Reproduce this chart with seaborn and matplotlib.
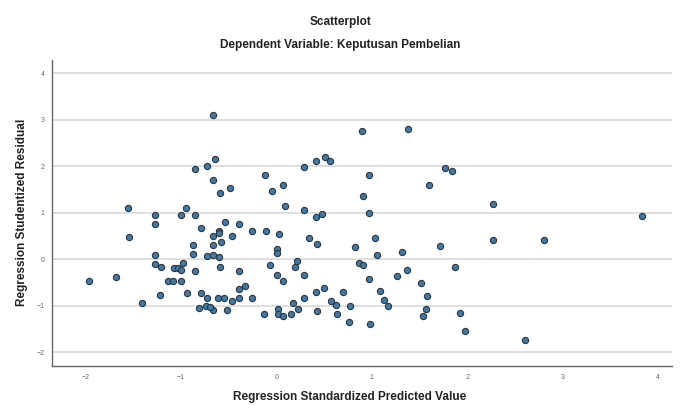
import matplotlib
matplotlib.use("Agg")
import matplotlib.pyplot as plt
import numpy as np
import pandas as pd
import seaborn as sns

# Regression standardized predicted value (x) and studentized residual (y),
# read off the SPSS scatterplot
pred = [
    -0.665, -0.645, -0.73, -0.85, -0.665, -0.49, -0.595, -0.12, -0.05,
    -1.55, -0.95, -1.27, -1.00, -0.85, -1.27, -0.79, -0.54, -0.39, -0.25,
    -0.11, -0.60, -1.54, -0.46, -0.66, -0.60, -0.58, -0.66, -0.87, -1.27,
    -0.875, -0.73, -0.66, -0.60, -1.27, -1.21, -1.07, -1.03, -0.98, -1.00,
    -0.59, -0.85, -0.39, -0.07, -1.96, -1.68, -1.14, -1.08, -1.00, -1.22,
    -0.94, -0.79, -0.73, -0.39, -0.33, -0.61, -0.55, -0.46, -0.39, -0.25,
    -1.41, -0.81, -0.735, -0.66, -0.52, -0.125, -0.70,
    0.895, 1.38, 0.51, 0.56, 0.42, 0.29, 0.97, 0.07, 0.905, 1.60, 1.77,
    1.84, 0.09, 0.29, 0.42, 0.48, 0.97, 0.025, 0.345, 0.43, 0.01, 0.01,
    0.825, 1.03, 1.05, 1.32, 1.72, 0.22, 0.195, 0.87, 0.91, 0.005, 0.07,
    0.29, 0.97, 1.26, 1.37, 1.87, 1.52, 0.42, 0.50, 0.70, 0.29, 0.57, 0.63,
    0.77, 1.09, 1.125, 1.17, 1.575, 1.57, 1.54, 1.92, 1.975, 0.17, 0.23,
    0.02, 0.02, 0.07, 0.15, 0.43, 0.64, 0.76, 0.985,
    2.27, 3.83, 2.27, 2.80, 2.61,
]
resid = [
    3.11, 2.16, 2.00, 1.95, 1.71, 1.54, 1.42, 1.81, 1.48,
    1.10, 1.10, 0.96, 0.95, 0.96, 0.76, 0.68, 0.80, 0.76, 0.61,
    0.61, 0.61, 0.47, 0.51, 0.51, 0.56, 0.38, 0.31, 0.31, 0.10,
    0.11, 0.06, 0.10, 0.04, -0.10, -0.17, -0.18, -0.18, -0.09, -0.24,
    -0.17, -0.26, -0.26, -0.13, -0.47, -0.38, -0.46, -0.46, -0.46, -0.77,
    -0.73, -0.73, -0.83, -0.63, -0.58, -0.83, -0.83, -0.89, -0.84, -0.83,
    -0.95, -1.04, -1.00, -1.09, -1.09, -1.18, -1.03,
    2.77, 2.81, 2.21, 2.12, 2.12, 1.98, 1.81, 1.60, 1.36, 1.60, 1.97,
    1.91, 1.15, 1.07, 0.90, 0.97, 0.99, 0.54, 0.46, 0.33, 0.23, 0.13,
    0.26, 0.46, 0.085, 0.15, 0.28, -0.04, -0.16, -0.09, -0.12, -0.34, -0.46,
    -0.33, -0.43, -0.36, -0.24, -0.16, -0.50, -0.70, -0.61, -0.70, -0.83, -0.89, -0.98,
    -1.01, -0.68, -0.87, -1.01, -0.80, -1.08, -1.22, -1.16, -1.54, -0.95, -1.08,
    -1.08, -1.18, -1.23, -1.18, -1.12, -1.18, -1.34, -1.40,
    1.19, 0.93, 0.42, 0.41, -1.74,
]
y_ticks = [-2, -1, 0, 1, 2, 3, 4]
x_ticks = [-2, -1, 0, 1, 2, 3, 4]

df = pd.DataFrame({"pred": pred, "resid": resid})

sns.set_style("white")
plt.rcParams["font.family"] = ["Liberation Sans", "DejaVu Sans"]

fig = plt.figure(figsize=(6.81, 4.05), dpi=100)
ax = fig.add_axes([0.0764, 0.096, 0.911, 0.757])

for t in y_ticks:
    ax.axhline(t, color="#d9d9d9", lw=1.2, zorder=0)

sns.scatterplot(data=df, x="pred", y="resid", ax=ax, s=20,
                color="#3f7ba6", edgecolor="#2a3440", linewidth=0.8, zorder=3)

ax.set_xlim(-2.35, 4.15)
ax.set_ylim(-2.3, 4.3)
ax.set_xticks(x_ticks)
ax.set_yticks(y_ticks)
ax.tick_params(axis="both", labelsize=5, colors="#666666", length=2, width=0.6)
for side in ["top", "right"]:
    ax.spines[side].set_visible(False)
for side in ["left", "bottom"]:
    ax.spines[side].set_color("#666666")
    ax.spines[side].set_linewidth(1.0)

ax.set_xlabel("Regression Standardized Predicted Value", fontsize=8.5,
              fontweight="bold", color="#222222")
ax.xaxis.set_label_coords(0.479, -0.08)
ax.set_ylabel("Regression Studentized Residual", fontsize=8.5,
              fontweight="bold", color="#222222", labelpad=6)

fig.text(0.5, 0.945, "Scatterplot", ha="center", va="center",
         fontsize=8.5, fontweight="bold", color="#222222")
fig.text(0.5, 0.888, "Dependent Variable: Keputusan Pembelian", ha="center",
         va="center", fontsize=8.5, fontweight="bold", color="#222222")

fig.savefig("out.png", dpi=100)
